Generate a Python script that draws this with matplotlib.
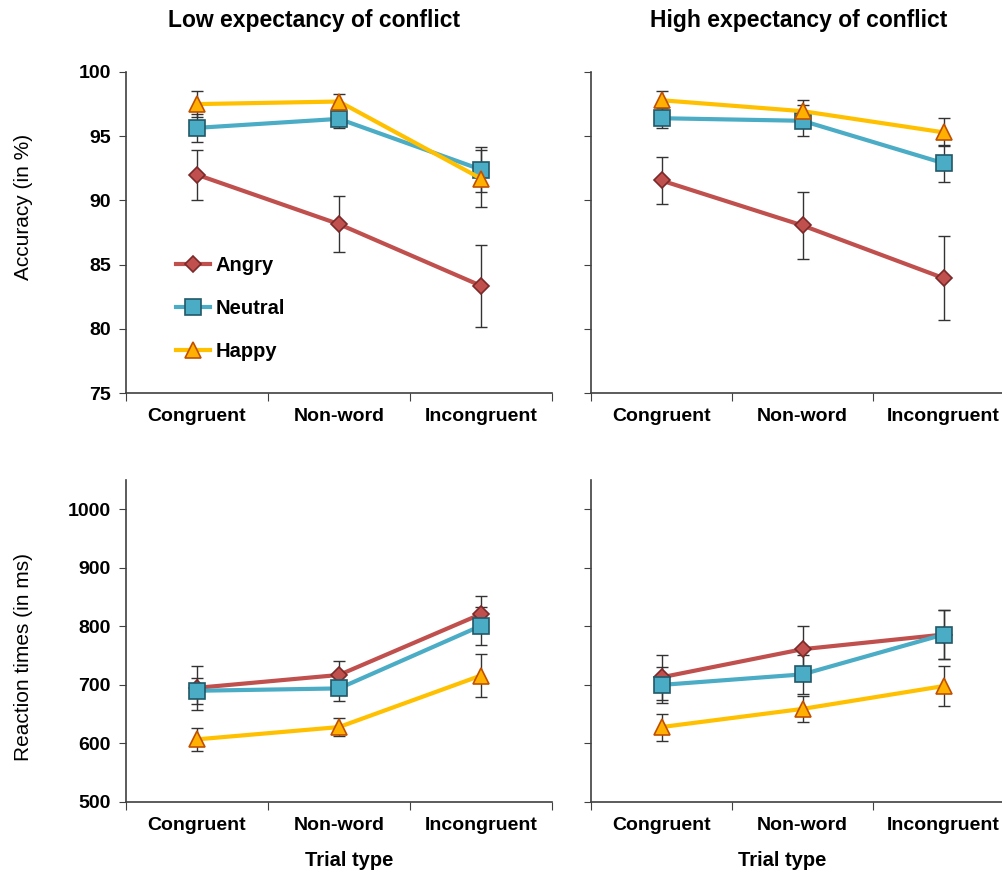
import numpy as np
import matplotlib.pyplot as plt

plt.rcParams['font.family'] = ['Liberation Sans', 'DejaVu Sans']
plt.rcParams['font.weight'] = 'bold'

trial_types = ['Congruent', 'Non-word', 'Incongruent']
emotions = ['Angry', 'Neutral', 'Happy']

# accuracy (%) - low / high expectancy of conflict
acc_low = {'Angry': [92.0, 88.15, 83.35], 'Neutral': [95.65, 96.35, 92.4], 'Happy': [97.5, 97.7, 91.7]}
acc_low_err = {'Angry': [1.95, 2.2, 3.2], 'Neutral': [1.1, 0.7, 1.75], 'Happy': [1.0, 0.55, 2.2]}
acc_high = {'Angry': [91.55, 88.05, 83.95], 'Neutral': [96.4, 96.2, 92.9], 'Happy': [97.8, 96.95, 95.3]}
acc_high_err = {'Angry': [1.8, 2.6, 3.3], 'Neutral': [0.8, 1.2, 1.45], 'Happy': [0.75, 0.9, 1.1]}

# reaction times (ms)
rt_low = {'Angry': [695, 717, 821], 'Neutral': [690, 694, 801], 'Happy': [607, 628, 716]}
rt_low_err = {'Angry': [38, 24, 31], 'Neutral': [22, 21, 32], 'Happy': [20, 16, 36]}
rt_high = {'Angry': [713, 761, 786], 'Neutral': [700, 718, 786], 'Happy': [628, 659, 698]}
rt_high_err = {'Angry': [38, 39, 42], 'Neutral': [31, 33, 42], 'Happy': [23, 22, 34]}

colors = {'Angry': '#C0504D', 'Neutral': '#4BACC6', 'Happy': '#FFC000'}
mfc = {'Angry': '#C0504D', 'Neutral': '#4BACC6', 'Happy': '#FFB000'}
edges = {'Angry': '#7A2A28', 'Neutral': '#215968', 'Happy': '#C05000'}
markers = {'Angry': 'D', 'Neutral': 's', 'Happy': '^'}
msizes = {'Angry': 8, 'Neutral': 11, 'Happy': 12}

fig = plt.figure(figsize=(10.02, 8.76), dpi=100)
W, H = 1002, 876
axes = {
    'tl': fig.add_axes([126 / W, (H - 393) / H, 426 / W, 321 / H]),
    'tr': fig.add_axes([591 / W, (H - 393) / H, 423 / W, 321 / H]),
    'bl': fig.add_axes([126 / W, (H - 802) / H, 426 / W, 322 / H]),
    'br': fig.add_axes([591 / W, (H - 802) / H, 423 / W, 322 / H]),
}
panels = [('tl', acc_low, acc_low_err), ('tr', acc_high, acc_high_err),
          ('bl', rt_low, rt_low_err), ('br', rt_high, rt_high_err)]

x = np.arange(len(trial_types)) + 0.5
for key, vals, errs in panels:
    ax = axes[key]
    for emo in emotions:
        ax.errorbar(x, vals[emo], yerr=errs[emo], fmt='none', ecolor='#333333',
                    elinewidth=1.0, capsize=4, capthick=1.0, zorder=2)
    for emo in emotions:
        ax.plot(x, vals[emo], color=colors[emo], lw=3, marker=markers[emo],
                ms=msizes[emo], mfc=mfc[emo], mec=edges[emo], mew=1.2,
                label=emo, zorder=3)
    ax.set_xlim(0, 3)
    ax.set_xticks([0, 1, 2, 3])
    ax.set_xticklabels([])
    ax.set_xticks(x, minor=True)
    ax.set_xticklabels(trial_types, minor=True, fontsize=14, fontweight='bold')
    ax.tick_params(axis='x', which='minor', length=0, pad=11)
    ax.tick_params(axis='x', which='major', length=6, color='#404040')
    ax.tick_params(axis='y', length=5, color='#404040', labelsize=14, pad=6)
    for s in ['top', 'right']:
        ax.spines[s].set_visible(False)
    for s in ['left', 'bottom']:
        ax.spines[s].set_color('#404040')
        ax.spines[s].set_linewidth(1.2)

for key in ['tl', 'tr']:
    axes[key].set_ylim(75, 100)
    axes[key].set_yticks([75, 80, 85, 90, 95, 100])
for key in ['bl', 'br']:
    axes[key].set_ylim(500, 1050)
    axes[key].set_yticks([500, 600, 700, 800, 900, 1000])
for key in ['tr', 'br']:
    axes[key].set_yticklabels([])

axes['tl'].set_yticklabels(['75', '80', '85', '90', '95', '100'], fontweight='bold')
axes['bl'].set_yticklabels(['500', '600', '700', '800', '900', '1000'], fontweight='bold')

axes['tl'].set_ylabel('Accuracy (in %)', fontsize=15, fontweight='normal')
axes['tl'].yaxis.set_label_coords((33 - 126) / 426, 0.58)
axes['bl'].set_ylabel('Reaction times (in ms)', fontsize=15, fontweight='normal')
axes['bl'].yaxis.set_label_coords((33 - 126) / 426, 0.45)
axes['bl'].set_xlabel('Trial type', fontsize=14.5, fontweight='bold')
axes['br'].set_xlabel('Trial type', fontsize=14.5, fontweight='bold')
axes['bl'].xaxis.set_label_coords((349 - 126) / 426, -0.152)
axes['br'].xaxis.set_label_coords((782 - 591) / 423, -0.152)

fig.text(314 / W, 1 - 20 / H, 'Low expectancy of conflict', ha='center', va='center',
         fontsize=16.5, fontweight='bold')
fig.text(799 / W, 1 - 20 / H, 'High expectancy of conflict', ha='center', va='center',
         fontsize=16.5, fontweight='bold')

axes['tl'].legend(loc='upper left', bbox_to_anchor=(0.075, 0.483), frameon=False,
                  handlelength=1.7, labelspacing=1.2, handletextpad=0.25,
                  prop={'weight': 'bold', 'size': 14.5})

fig.savefig('out.png', dpi=100)
